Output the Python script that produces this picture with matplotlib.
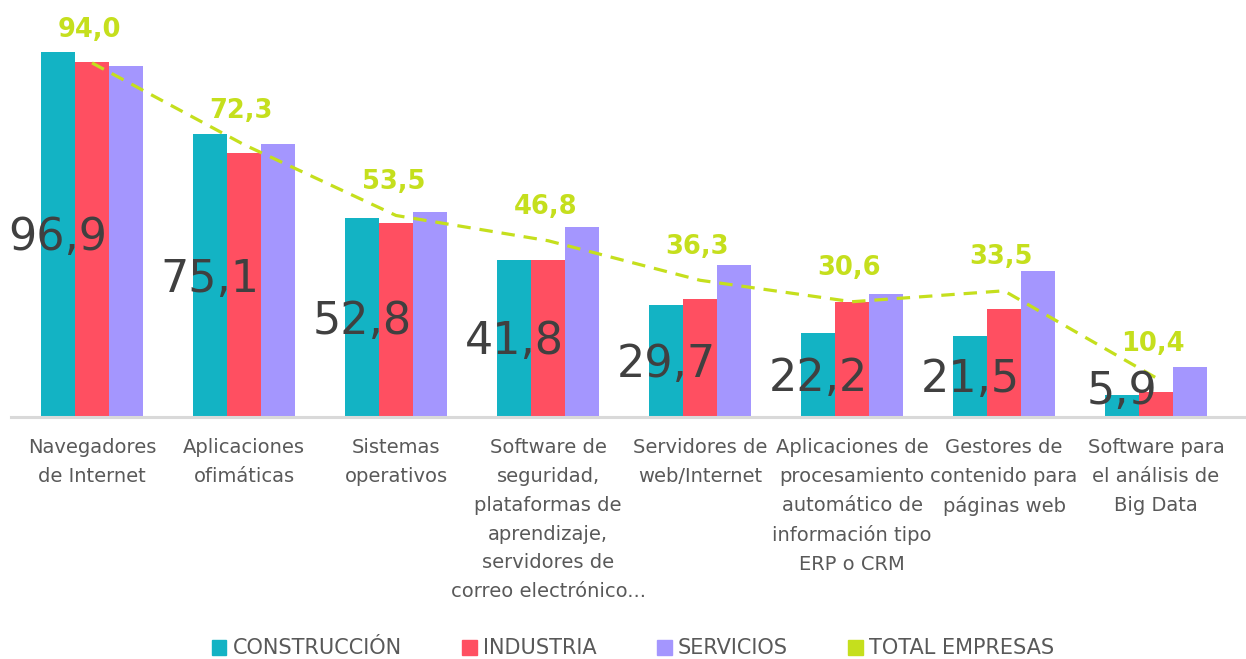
import matplotlib
matplotlib.use("Agg")
import matplotlib.pyplot as plt
from matplotlib.patches import Patch
import numpy as np

categories = [
    "Navegadores\nde Internet",
    "Aplicaciones\nofimáticas",
    "Sistemas\noperativos",
    "Software de\nseguridad,\nplataformas de\naprendizaje,\nservidores de\ncorreo electrónico...",
    "Servidores de\nweb/Internet",
    "Aplicaciones de\nprocesamiento\nautomático de\ninformación tipo\nERP o CRM",
    "Gestores de\ncontenido para\npáginas web",
    "Software para\nel análisis de\nBig Data",
]
construccion = [96.9, 75.1, 52.8, 41.8, 29.7, 22.2, 21.5, 5.9]
industria = [94.2, 70.1, 51.5, 41.8, 31.3, 30.5, 28.7, 6.6]
servicios = [93.2, 72.5, 54.4, 50.4, 40.3, 32.7, 38.8, 13.3]
total = [94.0, 72.3, 53.5, 46.8, 36.3, 30.6, 33.5, 10.4]
series_names = ["CONSTRUCCIÓN", "INDUSTRIA", "SERVICIOS", "TOTAL EMPRESAS"]

c_con = "#13b3c4"
c_ind = "#ff4f61"
c_ser = "#a496fe"
c_tot = "#c5df1d"
c_txt = "#595959"
c_big = "#404040"

W, H = 1246, 659
fig = plt.figure(figsize=(W / 100, H / 100), dpi=100)
ax_left = 11 / W
ax_bottom = (H - 417) / H
ax = fig.add_axes([ax_left, ax_bottom, 1 - ax_left, 1 - ax_bottom])

x = np.arange(len(categories))
bw = 0.224
ax.bar(x - bw, construccion, bw, color=c_con, zorder=2)
ax.bar(x, industria, bw, color=c_ind, zorder=2)
ax.bar(x + bw, servicios, bw, color=c_ser, zorder=2)
ax.plot(x, total, color=c_tot, lw=2.3, dashes=(4.2, 2.8), zorder=3)

ax.set_xlim(-0.533, 7.592)
ax.set_ylim(0, 110.7)

for xi, v in zip(x, construccion):
    ax.annotate(f"{v:.1f}".replace(".", ","), (xi - bw, max(v / 2, 7.7)),
                xytext=(0, -11.5), textcoords="offset points",
                ha="center", va="baseline", fontsize=32, color=c_big, zorder=5)

for xi, v in zip(x, total):
    ax.annotate(f"{v:.1f}".replace(".", ","), (xi, v),
                xytext=(-2, 19), textcoords="offset points",
                ha="center", va="baseline", fontsize=18.5, fontweight="bold",
                color=c_tot, zorder=5)

for s in ["top", "right", "left"]:
    ax.spines[s].set_visible(False)
ax.spines["bottom"].set_color("#d9d9d9")
ax.spines["bottom"].set_linewidth(2.2)
ax.set_yticks([])
ax.set_xticks(x)
ax.set_xticklabels(categories, fontsize=14, color=c_txt)
ax.tick_params(axis="x", length=0, pad=15)
for lbl in ax.get_xticklabels():
    lbl.set_linespacing(1.66)

handles = [Patch(color=c_con), Patch(color=c_ind), Patch(color=c_ser), Patch(color=c_tot)]
leg = fig.legend(handles, series_names, loc="center", bbox_to_anchor=(0.508, 10.5 / H),
                 ncol=4, frameon=False, fontsize=15, handlelength=0.7, handleheight=0.7,
                 handletextpad=0.3, columnspacing=2.9, borderaxespad=0)
for t in leg.get_texts():
    t.set_color(c_txt)

fig.savefig("out.png", dpi=100)
